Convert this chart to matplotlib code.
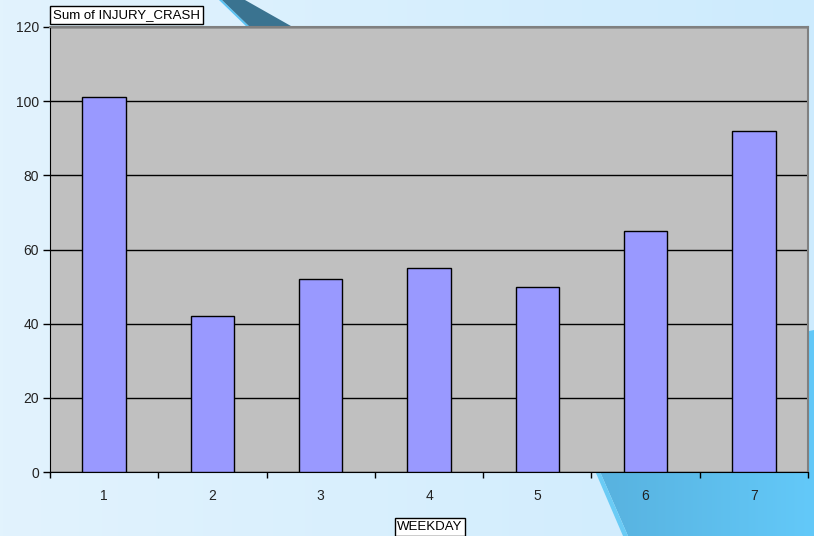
import numpy as np
import matplotlib
matplotlib.use('Agg')
import matplotlib.pyplot as plt
from matplotlib.patches import Polygon

# dados
dias = ['1', '2', '3', '4', '5', '6', '7']
acidentes = [101, 42, 52, 55, 50, 65, 92]
y_ticks = [0, 20, 40, 60, 80, 100, 120]

plt.rcParams['font.family'] = ['Liberation Sans', 'DejaVu Sans']

W, H = 814, 536
fig = plt.figure(figsize=(W / 100, H / 100), dpi=100)

# fundo em degradê azul claro
bg = fig.add_axes([0, 0, 1, 1])
grad = np.linspace(0, 1, 256).reshape(1, -1)
cores = matplotlib.colors.LinearSegmentedColormap.from_list('bg', ['#E2F3FD', '#CDEBFE'])
bg.imshow(grad, aspect='auto', cmap=cores, extent=[0, W, H, 0], zorder=0)

# faixa escura no topo
bg.add_patch(Polygon([(219, 0), (222, 0), (253, 30), (250, 30)], closed=True, color='#5BC3F3', lw=0, zorder=2))
bg.add_patch(Polygon([(222, 0), (245, 0), (298, 30), (253, 30)], closed=True, color='#3A7390', lw=0, zorder=2))

# forma azul no canto inferior direito
bg.add_patch(Polygon([(556, 380), (560, 380), (628, 536), (623, 536)], closed=True, color='#6ACBF5', lw=0, zorder=2))
sombra = Polygon([(560, 380), (814, 330), (814, 536), (628, 536)], closed=True,
                 facecolor='none', edgecolor='none', lw=0)
bg.add_patch(sombra)
cmap2 = matplotlib.colors.LinearSegmentedColormap.from_list('sh', ['#58B2DF', '#63C9F9'])
im = bg.imshow(grad, aspect='auto', cmap=cmap2, extent=[600, 814, 536, 330], zorder=1)
im.set_clip_path(sombra)
bg.set_xlim(0, W)
bg.set_ylim(H, 0)
bg.axis('off')

# gráfico
ax = fig.add_axes([50 / W, 1 - 472 / H, 758 / W, 445 / H])
ax.set_facecolor('#C0C0C0')
x = np.arange(len(dias))
ax.bar(x, acidentes, width=0.4, color='#9999FF', edgecolor='black', linewidth=1, zorder=3)

ax.set_xlim(-0.5, len(dias) - 0.5)
ax.set_ylim(0, 120)
ax.set_yticks(y_ticks)
ax.yaxis.grid(True, color='black', linewidth=1)
ax.set_axisbelow(True)

ax.set_xticks(x)
ax.set_xticklabels(dias)
ax.set_xticks(np.arange(len(dias) + 1) - 0.5, minor=True)
ax.tick_params(axis='x', which='major', length=0, pad=12, labelsize=10, labelcolor='#222222')
ax.tick_params(axis='x', which='minor', length=4, width=1, direction='out')
ax.tick_params(axis='y', length=5, width=1, labelsize=10, pad=3, labelcolor='#222222')

ax.spines['left'].set_color('black')
ax.spines['bottom'].set_color('black')
ax.spines['top'].set_color('#808080')
ax.spines['right'].set_color('#808080')
ax.spines['top'].set_linewidth(1.5)
ax.spines['right'].set_linewidth(1.5)

caixa = dict(boxstyle='square,pad=0.2', facecolor='white', edgecolor='black', linewidth=1)
fig.text(53 / W, 1 - 15 / H, 'Sum of INJURY_CRASH', fontsize=9.5, va='center', ha='left', bbox=caixa)
fig.text(430 / W, 1 - 527 / H, 'WEEKDAY', fontsize=9.5, va='center', ha='center', bbox=caixa)

plt.savefig('out.png', dpi=100)
